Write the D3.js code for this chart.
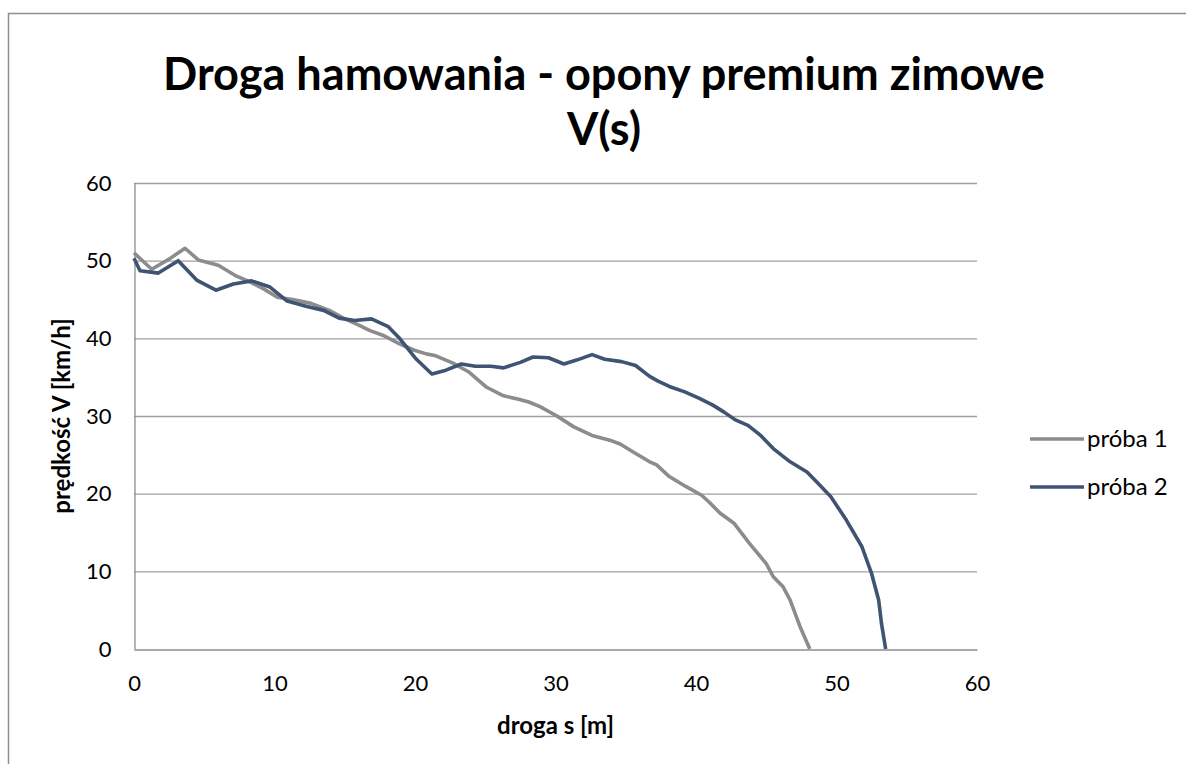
<!DOCTYPE html>
<html>
<head>
<meta charset="utf-8">
<script src="https://cdn.jsdelivr.net/npm/d3@7"></script>
<style>
  body { margin: 0; background: #fff; }
  svg { display: block; font-family: Lato, "Open Sans", sans-serif; }
</style>
</head>
<body>
<svg id="chart" width="1186" height="764"></svg>
<script>
// droga s [m] / prędkość V [km/h]
const s1 = [0, 1.26, 2.5, 3.63, 4.58, 6.0, 7.3, 8.1, 9.2, 10.2, 11.3, 12.6, 13.9, 14.9, 16.0, 16.8, 17.7, 18.9, 19.9, 20.8, 21.4, 22.7, 23.8, 25.1, 26.3, 27.3, 28.1, 28.9, 30.1, 31.3, 32.6, 34.0, 34.6, 35.5, 36.7, 37.2, 38.1, 39.3, 40.4, 41.0, 41.7, 42.7, 43.8, 45.0, 45.5, 46.2, 46.7, 47.4, 48.1];
const v1 = [51.0, 48.9, 50.2, 51.6, 50.1, 49.4, 48.0, 47.4, 46.4, 45.3, 45.0, 44.5, 43.6, 42.6, 41.7, 41.0, 40.4, 39.3, 38.5, 38.0, 37.8, 36.8, 35.7, 33.7, 32.6, 32.2, 31.8, 31.2, 30.0, 28.6, 27.5, 26.8, 26.4, 25.4, 24.1, 23.7, 22.2, 20.9, 19.8, 18.8, 17.5, 16.2, 13.6, 11.0, 9.3, 8.0, 6.3, 2.9, 0];

const s2 = [0, 0.43, 1.73, 3.15, 4.46, 5.83, 7.07, 8.37, 9.68, 10.9, 12.3, 13.5, 14.6, 15.7, 16.9, 18.1, 18.9, 20.1, 21.2, 22.2, 23.3, 24.3, 25.4, 26.3, 27.5, 28.4, 29.5, 30.6, 31.5, 32.6, 33.5, 34.7, 35.7, 36.7, 37.3, 38.1, 39.2, 40.2, 41.2, 42.0, 42.8, 43.7, 44.6, 45.5, 46.7, 47.9, 48.7, 49.6, 50.7, 51.8, 52.5, 53.0, 53.2, 53.5];
const v2 = [50.3, 48.7, 48.4, 50.0, 47.5, 46.2, 47.0, 47.4, 46.6, 44.8, 44.1, 43.6, 42.6, 42.3, 42.5, 41.5, 40.0, 37.3, 35.4, 35.9, 36.7, 36.4, 36.4, 36.2, 36.9, 37.6, 37.5, 36.7, 37.2, 37.9, 37.3, 37.0, 36.5, 35.1, 34.5, 33.8, 33.1, 32.3, 31.4, 30.5, 29.5, 28.8, 27.5, 25.8, 24.1, 22.8, 21.3, 19.6, 16.6, 13.2, 9.7, 6.3, 3.3, 0];

const seriesNames = ['próba 1', 'próba 2'];
const seriesColors = ['#8c8c8c', '#3f5372'];
const xTicks = [0, 10, 20, 30, 40, 50, 60];
const yTicks = [0, 10, 20, 30, 40, 50, 60];
const titleLines = ['Droga hamowania - opony premium zimowe', 'V(s)'];

const svg = d3.select('#chart');

// outer chart border
svg.append('path')
  .attr('d', 'M8.5,764 L8.5,13.5 L1186,13.5')
  .attr('fill', 'none')
  .attr('stroke', '#8e8e8e')
  .attr('stroke-width', 1.5);

const plotLeft = 134, plotRight = 977, plotTop = 183, plotBottom = 649;

const x = d3.scaleLinear().domain([0, 60]).range([plotLeft, plotRight]);
const y = d3.scaleLinear().domain([0, 60]).range([plotBottom, plotTop]);

// gridlines
svg.append('g')
  .selectAll('line')
  .data(yTicks.filter(d => d > 0))
  .enter()
  .append('line')
  .attr('x1', plotLeft).attr('x2', plotRight)
  .attr('y1', d => y(d) + 0.5).attr('y2', d => y(d) + 0.5)
  .attr('stroke', '#a0a0a0')
  .attr('stroke-width', 1.3);

// axes
const xAxis = svg.append('g')
  .attr('transform', 'translate(0,' + (plotBottom + 0.5) + ')')
  .call(d3.axisBottom(x).tickValues(xTicks).tickSize(0).tickPadding(26));
const yAxis = svg.append('g')
  .attr('transform', 'translate(' + (plotLeft + 0.5) + ',0)')
  .call(d3.axisLeft(y).tickValues(yTicks).tickSize(0).tickPadding(23));

[xAxis, yAxis].forEach(function (a) {
  a.select('.domain').attr('stroke', '#8e8e8e').attr('stroke-width', 1.3);
  a.selectAll('text')
    .attr('fill', '#000')
    .style('font-size', '22px')
    .style('font-family', 'Lato, sans-serif');
});

// lines
const line = d3.line()
  .x(d => x(d[0]))
  .y(d => y(d[1]));

const series = [d3.zip(s1, v1), d3.zip(s2, v2)];

svg.append('g')
  .selectAll('path')
  .data(series)
  .enter()
  .append('path')
  .attr('d', line)
  .attr('fill', 'none')
  .attr('stroke', (d, i) => seriesColors[i])
  .attr('stroke-width', 3.6)
  .attr('stroke-linejoin', 'round');

// title
const title = svg.append('text')
  .attr('text-anchor', 'middle')
  .attr('font-weight', 'bold')
  .style('font-size', '42px');
title.selectAll('tspan')
  .data(titleLines)
  .enter()
  .append('tspan')
  .attr('x', 604)
  .attr('y', (d, i) => 90 + i * 55)
  .text(d => d);
const w = title.select('tspan').node().getComputedTextLength();
title.style('font-size', (42 * 882 / w) + 'px');

// axis titles
svg.append('text')
  .attr('x', (plotLeft + plotRight) / 2)
  .attr('y', 734)
  .attr('text-anchor', 'middle')
  .attr('font-weight', 'bold')
  .style('font-size', '24px')
  .text('droga s [m]');

svg.append('text')
  .attr('transform', 'translate(70,' + ((plotTop + plotBottom) / 2) + ') rotate(-90)')
  .attr('text-anchor', 'middle')
  .attr('font-weight', 'bold')
  .style('font-size', '24px')
  .text('prędkość V [km/h]');

// legend
const legendItems = svg.append('g')
  .selectAll('.legend')
  .data(seriesNames)
  .enter()
  .append('g')
  .attr('class', 'legend')
  .attr('transform', (d, i) => 'translate(1030,' + (439 + i * 48) + ')');

legendItems.append('line')
  .attr('x1', 0).attr('x2', 54)
  .attr('stroke', (d, i) => seriesColors[i])
  .attr('stroke-width', 3.6);

legendItems.append('text')
  .attr('x', 57)
  .attr('y', 8)
  .style('font-size', '24px')
  .text(d => d);
</script>
</body>
</html>
